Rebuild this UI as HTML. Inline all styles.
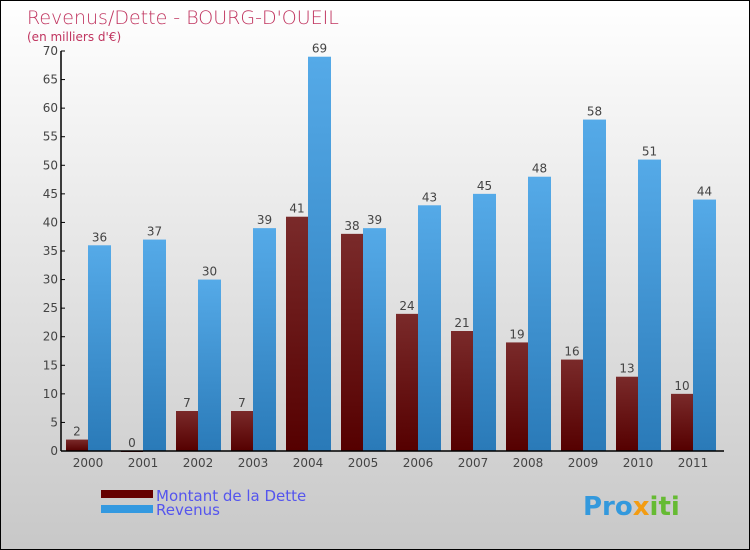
<!DOCTYPE html>
<html><head><meta charset="utf-8"><style>
body{margin:0}
#c{width:750px;height:550px;position:relative;overflow:hidden;box-sizing:border-box;border:1px solid #000;background:linear-gradient(#fff,#c8c8c8);font-family:"DejaVu Sans","Liberation Sans",sans-serif}
</style></head><body>
<div id="c">
<svg width="750" height="550" id="s">
<text x="26" y="23" font-size="19" fill="#c0345f" font-family="DejaVu Sans" font-weight="200">Revenus/Dette - BOURG-D'OUEIL</text>
<text x="26" y="40" font-size="12" fill="#c0345f">(en milliers d'€)</text>
<g id="g"></g>
<rect x="100" y="489" width="52" height="8" fill="#650000"/>
<rect x="100" y="504" width="52" height="8" fill="#3399e0"/>
<text x="155" y="500" font-size="15" fill="#5555ee">Montant de la Dette</text>
<text x="155" y="514" font-size="15" fill="#5555ee">Revenus</text>
<text x="582" y="514" font-size="26" font-weight="bold" fill="#3399dd">Pro<tspan fill="#f39c12">x</tspan><tspan fill="#66bb33">iti</tspan></text>
</svg></div>
<script>
const years=["2000","2001","2002","2003","2004","2005","2006","2007","2008","2009","2010","2011"];
const dette=[2,0,7,7,41,38,24,21,19,16,13,10];
const revenus=[36,37,30,39,69,39,43,45,48,58,51,44];
const ticks=[0,5,10,15,20,25,30,35,40,45,50,55,60,65,70];
const NS="http://www.w3.org/2000/svg";
const g=document.getElementById('g');
const x0=60,y0=450,step=55,ppu=400/70;
const y=v=>y0-v*ppu;
const cx=i=>x0+27+i*step;
function el(t,a){const e=document.createElementNS(NS,t);for(const k in a)e.setAttribute(k,a[k]);g.appendChild(e);return e;}
const defs=el('defs',{});
defs.innerHTML='<linearGradient id="gr" x1="0" y1="0" x2="0" y2="1"><stop offset="0" stop-color="#7a2a2a"/><stop offset="1" stop-color="#550000"/></linearGradient><linearGradient id="gb" x1="0" y1="0" x2="0" y2="1"><stop offset="0" stop-color="#55aae8"/><stop offset="1" stop-color="#2a7ab8"/></linearGradient>';
ticks.forEach(t=>{
 const l=el('line',{x1:x0,x2:x0+4,y1:y(t),y2:y(t),stroke:'#000'});
 
 
 const tx=el('text',{x:x0-3,y:y(t)+4,'font-size':12,fill:'#444','text-anchor':'end'});
 tx.textContent=t;
 
 
});
years.forEach((yr,i)=>{
 const c=cx(i);
 const b1=el('rect',{x:c-22,y:y(dette[i]),width:22,height:Math.max(dette[i]*ppu,1),fill:'url(#gr)'});
 
 
 const b2=el('rect',{x:c,y:y(revenus[i]),width:23,height:revenus[i]*ppu,fill:'url(#gb)'});
 
 
 const v1=el('text',{x:c-11,y:y(dette[i])-4,'font-size':12,fill:'#444','text-anchor':'middle'});
 v1.textContent=dette[i];
 
 
 const v2=el('text',{x:c+11.5,y:y(revenus[i])-4,'font-size':12,fill:'#444','text-anchor':'middle'});
 v2.textContent=revenus[i];
 
 
 const xl=el('text',{x:c,y:y0+16,'font-size':12,fill:'#444','text-anchor':'middle'});
 xl.textContent=yr;
 
 
});
const ya=el('line',{x1:x0,x2:x0,y1:y(70),y2:y0,stroke:'#000','stroke-width':1.5});


const xa=el('line',{x1:x0,x2:x0+12*step+3,y1:y0,y2:y0,stroke:'#000','stroke-width':1.5});


</script>
</body></html>
